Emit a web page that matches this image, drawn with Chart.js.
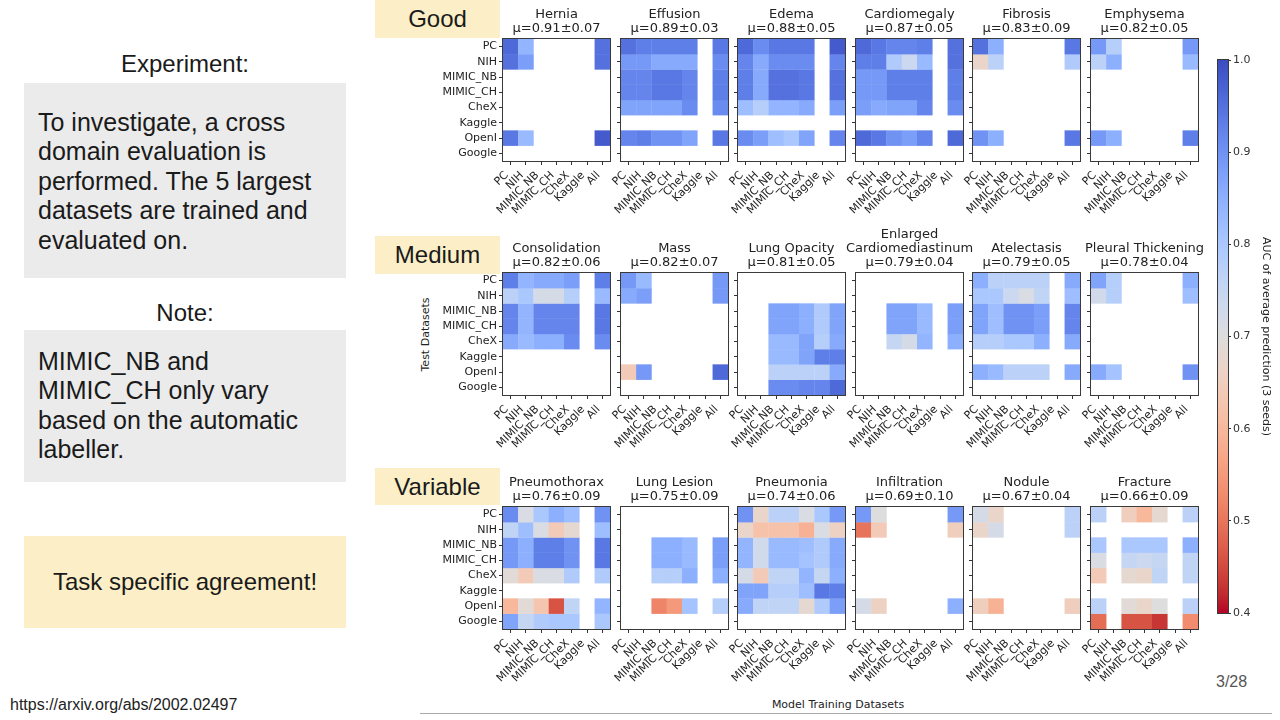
<!DOCTYPE html>
<html>
<head>
<meta charset="utf-8">
<script src="https://cdn.jsdelivr.net/npm/chart.js@4.4.0/dist/chart.umd.min.js"></script>
<style>
body { margin: 0; width: 1280px; height: 720px; position: relative; overflow: hidden; background: #fff;
       font-family: "Liberation Sans", Arial, sans-serif; color: #1a1a1a; }
.abs { position: absolute; }
.box { position: absolute; left: 24px; width: 322px; background: #ebebeb; box-sizing: border-box;
       padding-left: 14px; padding-right: 24px; font-size: 25px; line-height: 29.4px; }
.tag { position: absolute; left: 375px; width: 125px; height: 38px; background: #fcefc7; font-size: 24px;
       display: flex; align-items: center; justify-content: center; }
.mpl { font-family: "DejaVu Sans", sans-serif; font-size: 11px; color: #222; }
canvas { position: absolute; }
</style>
</head>
<body>

<div class="abs" style="left:24px;width:322px;top:50px;height:28px;line-height:28px;text-align:center;font-size:24px">Experiment:</div>
<div class="box" style="top:83px;height:195px;padding-top:25px">To investigate, a cross domain evaluation is performed. The 5 largest datasets are trained and evaluated on.</div>
<div class="abs" style="left:24px;width:322px;top:299px;height:28px;line-height:28px;text-align:center;font-size:24px">Note:</div>
<div class="box" style="top:330px;height:152px;padding-top:17px">MIMIC_NB and MIMIC_CH only vary based on the automatic labeller.</div>
<div class="abs" style="left:24px;width:322px;top:536px;height:92px;background:#fcefc7;font-size:24px;display:flex;align-items:center;justify-content:center">Task specific agreement!</div>
<div class="abs" style="left:10px;top:696px;font-size:16px;color:#222">https://arxiv.org/abs/2002.02497</div>

<div class="tag" style="top:0px">Good</div>
<div class="tag" style="top:236px">Medium</div>
<div class="tag" style="top:468px;height:37px">Variable</div>

<div class="abs mpl" style="left:375px;top:328px;width:100px;text-align:center;transform:rotate(-90deg)">Test Datasets</div>
<div class="abs mpl" style="left:738px;top:698px;width:200px;text-align:center">Model Training Datasets</div>
<div class="abs" style="left:420px;top:713px;width:852px;height:1px;background:#aaa"></div>
<div class="abs" style="left:1216px;top:673px;font-size:16px;color:#555">3/28</div>

<script>
const n = null;
const testSets = ['PC', 'NIH', 'MIMIC_NB', 'MIMIC_CH', 'CheX', 'Kaggle', 'OpenI', 'Google'];
const trainSets = ['PC', 'NIH', 'MIMIC_NB', 'MIMIC_CH', 'CheX', 'Kaggle', 'All'];
const none = [n, n, n, n, n, n, n];

// rows = test dataset, columns = training dataset
const hernia = [
  [0.96, 0.84, n, n, n, n, 0.95],
  [0.95, 0.88, n, n, n, n, 0.95],
  none, none, none, none,
  [0.94, 0.83, n, n, n, n, 0.98],
  none];
const effusion = [
  [0.95, 0.93, 0.93, 0.93, 0.93, n, 0.94],
  [0.89, 0.89, 0.86, 0.86, 0.86, n, 0.91],
  [0.92, 0.92, 0.94, 0.94, 0.92, n, 0.93],
  [0.92, 0.92, 0.94, 0.94, 0.92, n, 0.93],
  [0.87, 0.87, 0.87, 0.87, 0.91, n, 0.91],
  none,
  [0.92, 0.93, 0.90, 0.90, 0.87, n, 0.94],
  none];
const edema = [
  [0.96, 0.91, 0.94, 0.94, 0.94, n, 0.98],
  [0.92, 0.86, 0.91, 0.91, 0.91, n, 0.92],
  [0.93, 0.86, 0.95, 0.95, 0.94, n, 0.95],
  [0.93, 0.86, 0.95, 0.95, 0.94, n, 0.95],
  [0.82, 0.78, 0.84, 0.84, 0.86, n, 0.88],
  none,
  [0.91, 0.88, 0.82, 0.80, 0.87, n, 0.92],
  none];
const cardiomegaly = [
  [0.96, 0.94, 0.92, 0.92, 0.93, n, 0.95],
  [0.93, 0.93, 0.79, 0.74, 0.83, n, 0.95],
  [0.89, 0.89, 0.93, 0.93, 0.93, n, 0.93],
  [0.89, 0.89, 0.93, 0.93, 0.93, n, 0.93],
  [0.88, 0.86, 0.87, 0.87, 0.92, n, 0.91],
  none,
  [0.96, 0.94, 0.90, 0.88, 0.92, n, 0.96],
  none];
const fibrosis = [
  [0.95, 0.85, n, n, n, n, 0.94],
  [0.67, 0.77, n, n, n, n, 0.79],
  none, none, none, none,
  [0.90, 0.85, n, n, n, n, 0.94],
  none];
const emphysema = [
  [0.89, 0.78, n, n, n, n, 0.89],
  [0.77, 0.85, n, n, n, n, 0.83],
  none, none, none, none,
  [0.89, 0.85, n, n, n, n, 0.93],
  none];
const consolidation = [
  [0.93, 0.84, 0.86, 0.86, 0.88, n, 0.93],
  [0.77, 0.80, 0.72, 0.72, 0.78, n, 0.83],
  [0.92, 0.84, 0.92, 0.92, 0.92, n, 0.94],
  [0.92, 0.84, 0.92, 0.92, 0.92, n, 0.94],
  [0.86, 0.83, 0.85, 0.85, 0.91, n, 0.91],
  none, none, none];
const mass = [
  [0.89, 0.83, n, n, n, n, 0.89],
  [0.86, 0.88, n, n, n, n, 0.89],
  none, none, none, none,
  [0.64, 0.89, n, n, n, n, 0.96],
  none];
const lungOpacity = [
  none, none,
  [n, n, 0.87, 0.87, 0.85, 0.79, 0.87],
  [n, n, 0.87, 0.87, 0.85, 0.79, 0.87],
  [n, n, 0.83, 0.83, 0.87, 0.78, 0.86],
  [n, n, 0.83, 0.83, 0.87, 0.93, 0.93],
  [n, n, 0.77, 0.77, 0.77, 0.77, 0.86],
  [n, n, 0.91, 0.91, 0.92, 0.92, 0.96]];
const enlargedCardio = [
  none, none,
  [n, n, 0.87, 0.87, 0.83, n, 0.88],
  [n, n, 0.87, 0.87, 0.83, n, 0.88],
  [n, n, 0.75, 0.72, 0.84, n, 0.85],
  none, none, none];
const atelectasis = [
  [0.85, 0.77, 0.77, 0.77, 0.77, n, 0.86],
  [0.80, 0.80, 0.74, 0.71, 0.76, n, 0.82],
  [0.87, 0.82, 0.90, 0.90, 0.88, n, 0.92],
  [0.87, 0.82, 0.90, 0.90, 0.88, n, 0.92],
  [0.78, 0.78, 0.80, 0.80, 0.85, n, 0.86],
  none,
  [0.85, 0.83, 0.77, 0.77, 0.77, n, 0.86],
  none];
const pleuralThickening = [
  [0.87, 0.78, n, n, n, n, 0.85],
  [0.73, 0.78, n, n, n, n, 0.82],
  none, none, none, none,
  [0.86, 0.81, n, n, n, n, 0.90],
  none];
const pneumothorax = [
  [0.91, 0.71, 0.80, 0.85, 0.82, n, 0.90],
  [0.76, 0.82, 0.71, 0.64, 0.68, n, 0.82],
  [0.89, 0.85, 0.93, 0.93, 0.90, n, 0.94],
  [0.89, 0.85, 0.93, 0.93, 0.90, n, 0.94],
  [0.69, 0.64, 0.71, 0.71, 0.79, n, 0.79],
  none,
  [0.60, 0.69, 0.63, 0.46, 0.76, n, 0.84],
  [0.87, 0.75, 0.79, 0.80, 0.80, n, 0.80]];
const lungLesion = [
  none, none,
  [n, n, 0.85, 0.85, 0.83, n, 0.88],
  [n, n, 0.85, 0.85, 0.83, n, 0.88],
  [n, n, 0.78, 0.78, 0.85, n, 0.85],
  none,
  [n, n, 0.52, 0.55, 0.81, n, 0.78],
  none];
const pneumonia = [
  [0.90, 0.67, 0.77, 0.77, 0.71, 0.80, 0.89],
  [0.67, 0.62, 0.62, 0.62, 0.59, 0.71, 0.66],
  [0.84, 0.73, 0.83, 0.83, 0.82, 0.79, 0.86],
  [0.84, 0.73, 0.83, 0.83, 0.81, 0.79, 0.86],
  [0.72, 0.64, 0.76, 0.76, 0.84, 0.75, 0.85],
  [0.87, 0.87, 0.78, 0.78, 0.82, 0.94, 0.93],
  [0.86, 0.76, 0.76, 0.76, 0.68, 0.79, 0.88],
  none];
const infiltration = [
  [0.89, 0.70, n, n, n, n, 0.89],
  [0.50, 0.64, n, n, n, n, 0.65],
  none, none, none, none,
  [0.72, 0.66, n, n, n, n, 0.85],
  none];
const nodule = [
  [0.72, 0.67, n, n, n, n, 0.77],
  [0.67, 0.72, n, n, n, n, 0.77],
  none, none, none, none,
  [0.65, 0.59, n, n, n, n, 0.65],
  none];
const fracture = [
  [0.77, n, 0.65, 0.60, 0.68, n, 0.77],
  none,
  [0.80, n, 0.80, 0.80, 0.80, n, 0.85],
  [0.71, n, 0.75, 0.74, 0.75, n, 0.76],
  [0.64, n, 0.68, 0.67, 0.76, n, 0.76],
  none,
  [0.77, n, 0.69, 0.67, 0.70, n, 0.77],
  [0.49, n, 0.46, 0.46, 0.43, n, 0.53]];

const diseaseNames = [
  ['Hernia'], ['Effusion'], ['Edema'], ['Cardiomegaly'], ['Fibrosis'], ['Emphysema'],
  ['Consolidation'], ['Mass'], ['Lung Opacity'], ['Enlarged', 'Cardiomediastinum'], ['Atelectasis'], ['Pleural Thickening'],
  ['Pneumothorax'], ['Lung Lesion'], ['Pneumonia'], ['Infiltration'], ['Nodule'], ['Fracture']];
const diseaseStats = [
  'μ=0.91±0.07', 'μ=0.89±0.03', 'μ=0.88±0.05', 'μ=0.87±0.05', 'μ=0.83±0.09', 'μ=0.82±0.05',
  'μ=0.82±0.06', 'μ=0.82±0.07', 'μ=0.81±0.05', 'μ=0.79±0.04', 'μ=0.79±0.05', 'μ=0.78±0.04',
  'μ=0.76±0.09', 'μ=0.75±0.09', 'μ=0.74±0.06', 'μ=0.69±0.10', 'μ=0.67±0.04', 'μ=0.66±0.09'];
const matrices = [
  hernia, effusion, edema, cardiomegaly, fibrosis, emphysema,
  consolidation, mass, lungOpacity, enlargedCardio, atelectasis, pleuralThickening,
  pneumothorax, lungLesion, pneumonia, infiltration, nodule, fracture];

const vmin = 0.4, vmax = 1.0;
const cbarLabel = 'AUC of average prediction (3 seeds)';

// matplotlib coolwarm, blue -> grey -> red (used reversed: high AUC = blue)
const coolwarm = [
  [59,76,192],[68,90,204],[77,104,215],[87,117,225],[98,130,234],[108,142,241],[119,154,247],[130,165,251],
  [141,176,254],[152,185,255],[163,194,255],[174,201,253],[184,208,249],[194,213,244],[204,217,238],[213,219,230],
  [221,221,221],[229,216,209],[236,211,197],[241,204,185],[245,196,173],[247,187,160],[247,177,148],[247,166,135],
  [244,154,123],[241,141,111],[236,127,99],[229,112,88],[222,96,77],[213,80,66],[203,62,56],[192,40,47],[180,4,38]];

function cmap(v) {
  let t = Math.min(1, Math.max(0, (v - vmin) / (vmax - vmin)));
  const u = (1 - t) * 32;
  const i = Math.min(31, Math.floor(u));
  const f = u - i;
  const a = coolwarm[i], b = coolwarm[i + 1];
  return 'rgb(' + [0, 1, 2].map(k => Math.round(a[k] + (b[k] - a[k]) * f)).join(',') + ')';
}

const frame = {
  id: 'frame',
  afterDatasetsDraw(chart) {
    const { ctx, chartArea: a } = chart;
    ctx.save();
    ctx.strokeStyle = '#3a3a3a';
    ctx.lineWidth = 1;
    ctx.strokeRect(a.left - 0.5, a.top - 0.5, a.right - a.left + 1, a.bottom - a.top + 1);
    ctx.restore();
  }
};

const panelTop = [39, 273, 507];
const panelLeft = k => Math.round(503 + k * 117.6);
// side margins are equal so the (full width) title is centred over the cells
const areaW = 107, areaH = 122, sideW = 70, titleH = 58, xAxisH = 70;
const mplFont = 'DejaVu Sans';

matrices.forEach((m, i) => {
  const r = Math.floor(i / 6), c = i % 6;
  const cv = document.createElement('canvas');
  cv.width = sideW + areaW + sideW;
  cv.height = titleH + areaH + xAxisH;
  cv.style.left = (panelLeft(c) - sideW) + 'px';
  cv.style.top = (panelTop[r] - titleH) + 'px';
  document.body.appendChild(cv);

  const titleLines = diseaseNames[i].concat([diseaseStats[i]]);
  const lineH = 13 * 1.08;

  new Chart(cv, {
    type: 'bar',
    data: {
      labels: trainSets,
      datasets: testSets.map((name, row) => ({
        label: name,
        data: m[row].map(v => v == null ? null : [row - 0.01, row + 1.01]),
        backgroundColor: m[row].map(v => v == null ? 'rgba(0,0,0,0)' : cmap(v)),
        borderWidth: 0,
        grouped: false,
        barPercentage: 1.02,
        categoryPercentage: 1
      }))
    },
    options: {
      responsive: false,
      animation: false,
      layout: { padding: 0 },
      plugins: {
        legend: { display: false },
        tooltip: { enabled: false },
        title: {
          display: true,
          text: titleLines,
          color: '#222',
          font: { family: mplFont, size: 13, weight: 'normal', lineHeight: 1.08 },
          padding: { top: titleH - titleLines.length * lineH - 3, bottom: 3 }
        }
      },
      scales: {
        x: {
          type: 'category',
          offset: true,
          grid: { display: true, offset: false, drawOnChartArea: false, drawTicks: true, tickLength: 4, color: '#333' },
          border: { display: false },
          ticks: { autoSkip: false, minRotation: 45, maxRotation: 45, padding: 4, labelOffset: -4, color: '#222',
                   font: { family: mplFont, size: 11 } },
          afterFit: s => { s.height = xAxisH; }
        },
        y: {
          type: 'linear',
          reverse: true,
          min: 0,
          max: testSets.length,
          afterBuildTicks: s => { s.ticks = testSets.map((_, k) => ({ value: k + 0.5 })); },
          grid: { display: true, drawOnChartArea: false, drawTicks: true, tickLength: 4, color: '#333' },
          border: { display: false },
          ticks: { padding: 2, color: '#222', font: { family: mplFont, size: 11 },
                   callback: (v, k) => c === 0 ? testSets[k] : '' },
          afterFit: s => { s.width = sideW; }
        },
        spacer: {
          type: 'linear',
          position: 'right',
          grid: { display: false },
          border: { display: false },
          ticks: { display: false },
          afterFit: s => { s.width = sideW; }
        }
      }
    },
    plugins: [frame]
  });
});

// colour bar
const cb = document.createElement('canvas');
cb.width = 90; cb.height = 600;
cb.style.left = '1190px'; cb.style.top = '40px';
document.body.appendChild(cb);
new Chart(cb, {
  type: 'bar',
  data: {
    labels: [''],
    datasets: [{
      data: [[vmin, vmax]],
      borderWidth: 0,
      barPercentage: 1,
      categoryPercentage: 1,
      backgroundColor: ctx => {
        const a = ctx.chart.chartArea;
        if (!a) return 'rgba(0,0,0,0)';
        const g = ctx.chart.ctx.createLinearGradient(0, a.bottom, 0, a.top);
        coolwarm.forEach((col, k) => g.addColorStop(1 - k / 32, 'rgb(' + col.join(',') + ')'));
        return g;
      }
    }]
  },
  options: {
    responsive: false,
    animation: false,
    layout: { padding: { left: 28, right: 0, top: 20, bottom: 27 } },
    plugins: { legend: { display: false }, tooltip: { enabled: false } },
    scales: {
      x: { display: false },
      y: {
        position: 'right',
        min: vmin,
        max: vmax,
        grid: { display: true, drawOnChartArea: false, drawTicks: true, tickLength: 3, color: '#333' },
        border: { display: false },
        ticks: { stepSize: 0.1, padding: 2, color: '#333', font: { family: mplFont, size: 11 },
                 callback: v => v.toFixed(1) },
        title: { display: true, text: cbarLabel, color: '#222', padding: { top: 8, bottom: 0 },
                 font: { family: mplFont, size: 11 } },
        afterFit: s => { s.width = 52; }
      }
    }
  },
  plugins: [frame]
});
</script>
</body>
</html>
